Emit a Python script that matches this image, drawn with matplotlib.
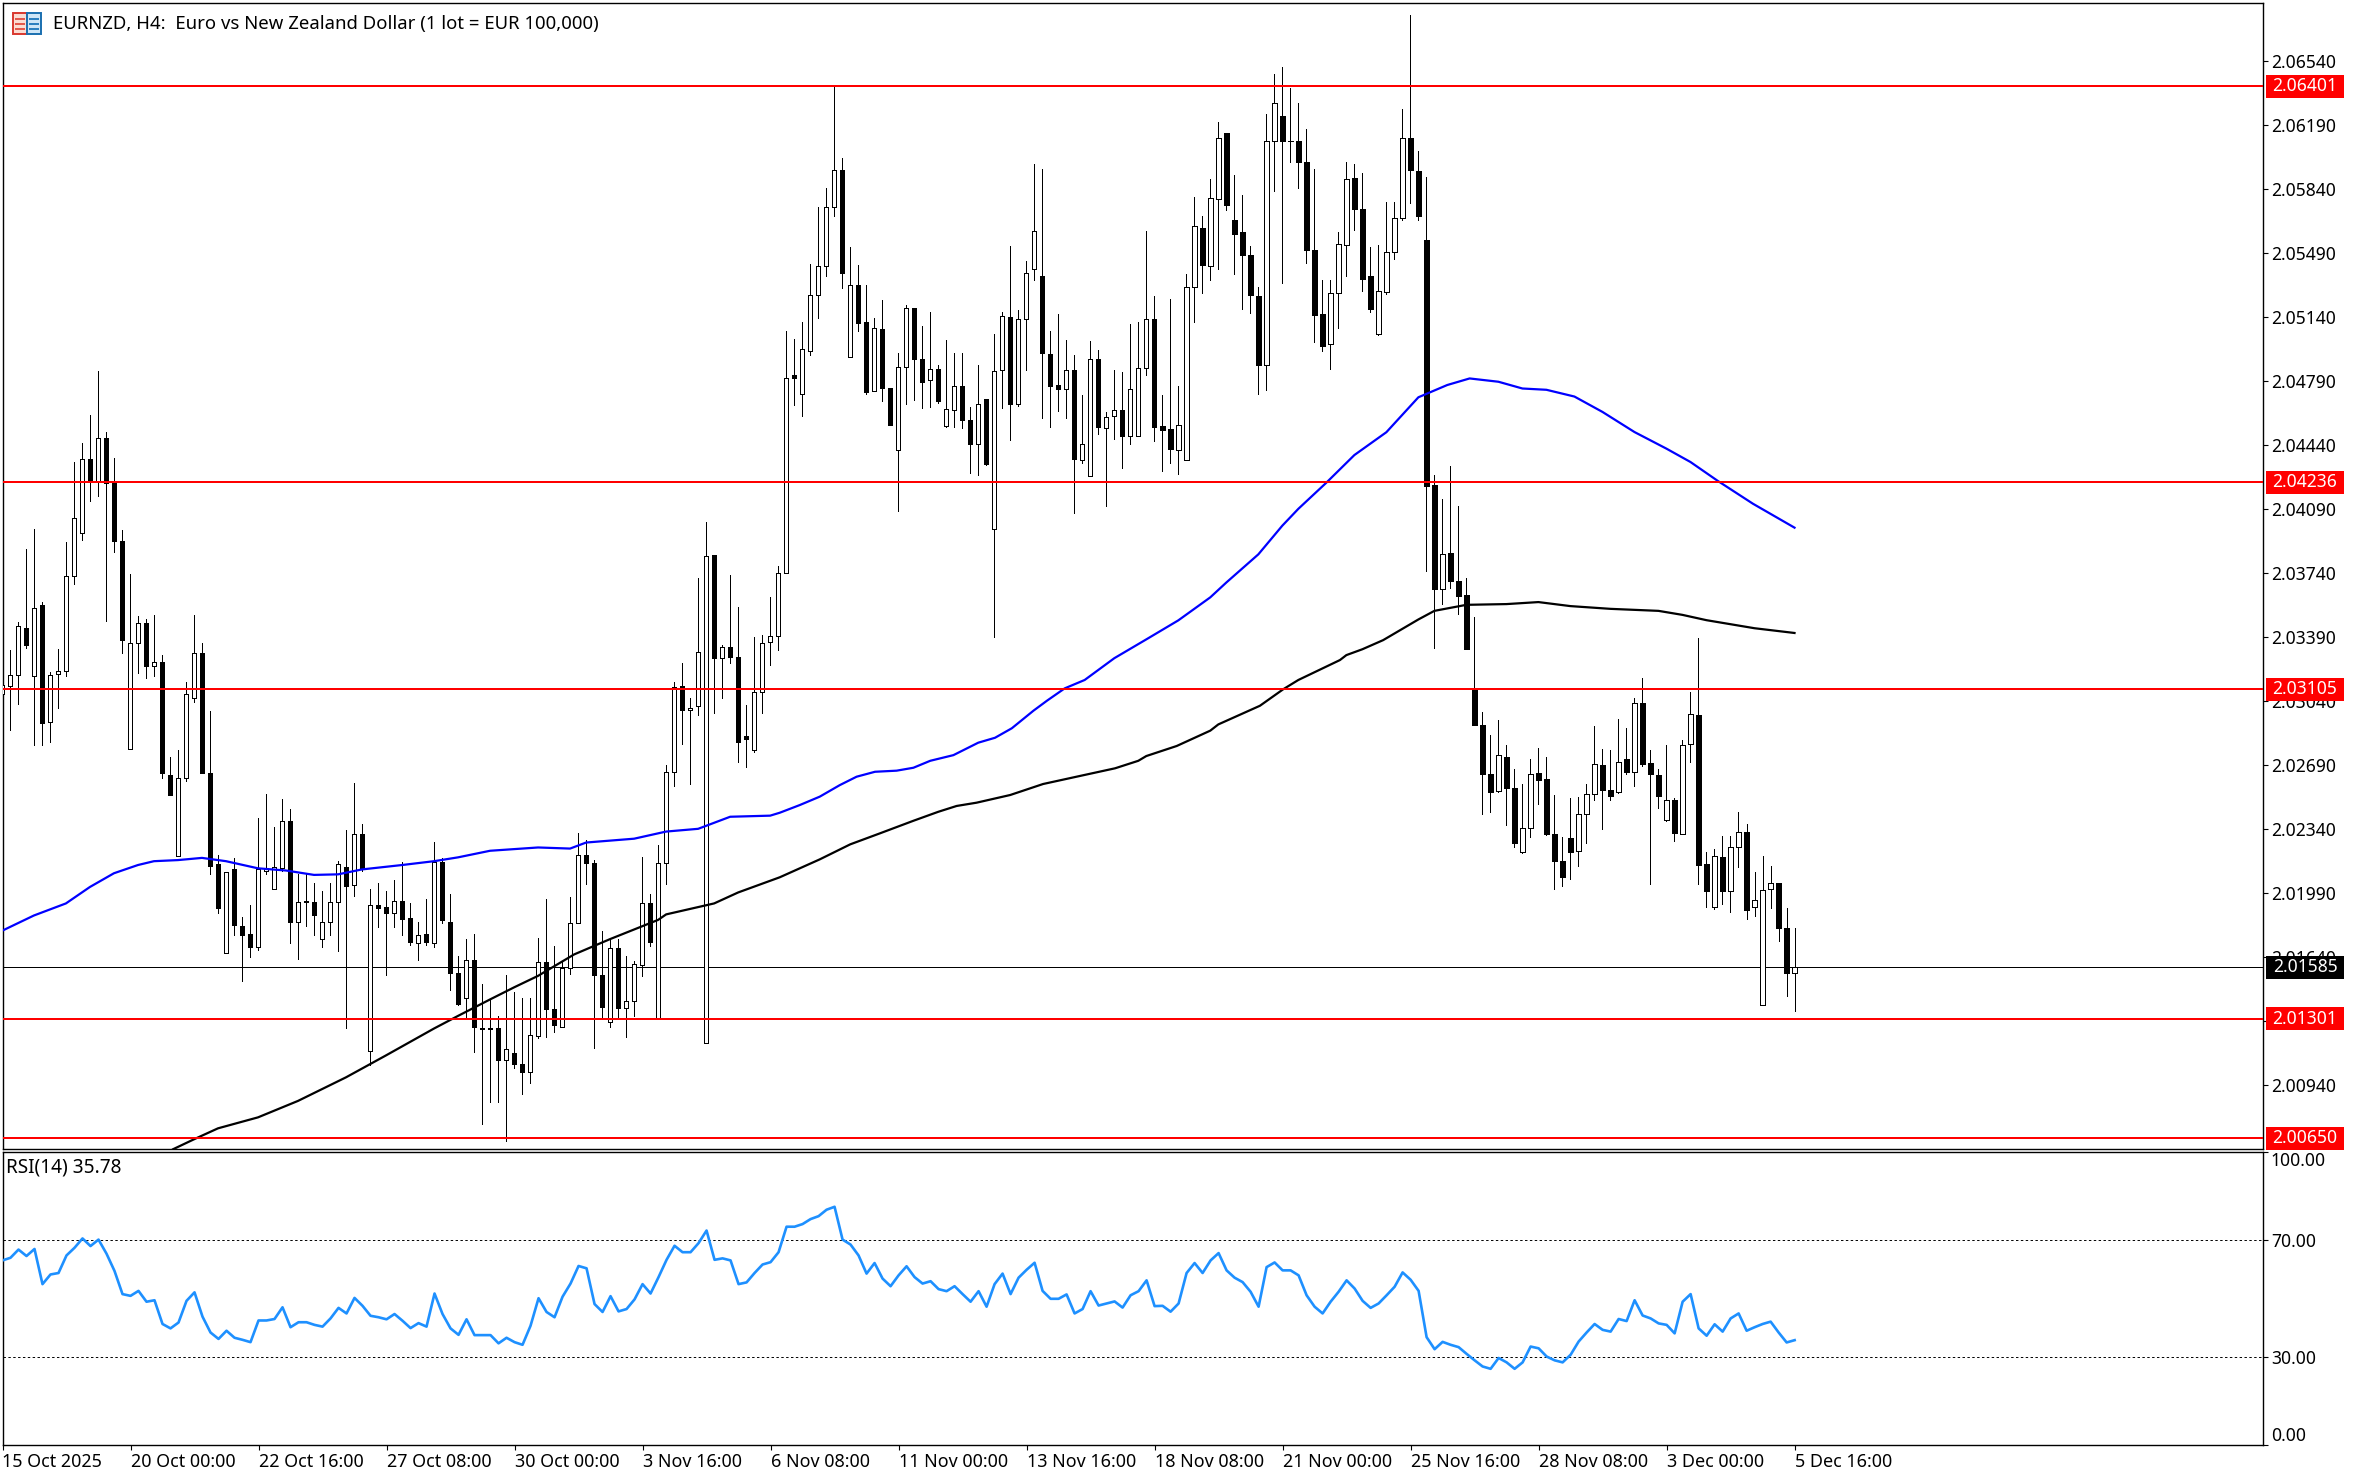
import numpy as np
import matplotlib
matplotlib.use("Agg")
import matplotlib.pyplot as plt
from matplotlib.patches import Rectangle
from matplotlib.transforms import blended_transform_factory

plt.rcParams['font.family'] = ['Noto Sans', 'DejaVu Sans']

W, H = 2359, 1478

# H4 bars, prices in points (1 point = 0.00001)
opens = [
    203079, 203124, 203184, 203439, 203175, 203565, 202923, 203190, 203202, 203724, 203961, 204366, 204240, 204480, 204234, 203913,
    202779, 203358, 203466, 203229, 203256, 202638, 202194, 202620, 203058, 203304, 202644, 202149, 201660, 202119, 201810, 201768,
    201693, 202113, 202014, 202128, 202386, 201834, 201939, 201939, 201738, 201834, 201942, 202134, 202032, 202314, 201126, 201927,
    201915, 201882, 201948, 201855, 201717, 201768, 201717, 202161, 201834, 201555, 201417, 201624, 201252, 201246, 201252, 201075,
    201117, 201057, 201009, 201210, 201615, 201357, 201255, 201579, 201828, 202200, 202155, 201543, 201285, 201690, 201363, 201402,
    201597, 201933, 201303, 202152, 202650, 203124, 202992, 203010, 201171, 203841, 203277, 203337, 203283, 202848, 202773, 203091,
    203364, 203397, 203739, 204825, 204717, 204954, 205263, 205421, 205739, 205946, 204920, 205313, 205115, 204733, 205074, 204754,
    204415, 204869, 205187, 204913, 204793, 204857, 204542, 204634, 204761, 204579, 204443, 204694, 203983, 204848, 205138, 204666,
    205131, 205401, 205366, 204936, 204770, 204749, 204848, 204360, 204268, 204908, 204535, 204600, 204634, 204491, 204487, 204862,
    205131, 204542, 204528, 204415, 204356, 205306, 205629, 205419, 205787, 206147, 205668, 205603, 205477, 205253, 204880, 206105,
    206239, 206105, 206103, 205985, 205509, 205154, 204991, 205269, 205536, 205902, 205730, 205364, 205046, 205276, 205493, 205684,
    206117, 205937, 205559, 204222, 203653, 203849, 203695, 203617, 203105, 202911, 202643, 202548, 202735, 202563, 202215, 202347,
    202647, 202614, 202314, 202167, 202292, 202218, 202423, 202530, 202691, 202552, 202541, 202724, 202651, 203028, 202702, 202636,
    202390, 202497, 202314, 202804, 202966, 202149, 201911, 202185, 202002, 202244, 202325, 201911, 201379, 202010, 202046, 201797, 201555,
]
highs = [
    203163, 203319, 203472, 203871, 203982, 203583, 203199, 203325, 203910, 204348, 204453, 204603, 204846, 204513, 204369, 203973,
    203733, 203505, 203487, 203511, 203292, 202734, 202773, 203142, 203511, 203355, 202986, 202197, 202107, 202179, 201858, 201927,
    202401, 202530, 202353, 202503, 202449, 202092, 202092, 202044, 201999, 202047, 202164, 202335, 202593, 202368, 202014, 202047,
    201999, 202059, 202158, 201933, 201831, 201957, 202269, 202179, 201987, 201648, 201738, 201768, 201492, 201408, 201318, 201543,
    201447, 201417, 201417, 201744, 201957, 201702, 201618, 201969, 202320, 202278, 202173, 201783, 201738, 201738, 201648, 201618,
    202188, 201984, 202251, 202689, 203142, 203247, 203058, 203712, 204018, 203841, 203349, 203730, 203553, 203019, 203391, 203403,
    203607, 203778, 205062, 205019, 205115, 205431, 205741, 205845, 206402, 206008, 205523, 205424, 205315, 205134, 205233, 204754,
    204943, 205205, 205191, 205090, 205168, 204878, 205012, 204943, 204943, 204648, 204878, 204694, 205046, 205168, 205527, 205180,
    205444, 205976, 205949, 205062, 205154, 205012, 204933, 204712, 205009, 204959, 204620, 204850, 204837, 205101, 205113, 205612,
    205253, 204712, 205237, 204765, 205375, 205794, 205695, 205896, 206206, 206147, 205914, 205806, 205527, 205304, 206248, 206471,
    206508, 206393, 206310, 206167, 205949, 205345, 205345, 205603, 205988, 205976, 205925, 205523, 205534, 205767, 205771, 206280,
    206793, 206048, 205905, 204275, 204144, 204326, 204107, 203711, 203500, 202980, 202856, 202936, 202797, 202669, 202588, 202724,
    202782, 202735, 202526, 202295, 202508, 202515, 202588, 202903, 202779, 202771, 202944, 202892, 203057, 203167, 202771, 202669,
    202797, 202508, 202826, 203090, 203383, 202215, 202229, 202303, 202303, 202434, 202369, 202105, 202193, 202138, 202046, 201907, 201797,
]
lows = [
    203028, 202884, 203022, 203328, 202797, 202797, 202815, 203004, 203178, 203682, 203919, 204132, 204162, 203478, 203856, 203301,
    202779, 203193, 203166, 203178, 202617, 202527, 202194, 202602, 203037, 202644, 202092, 201879, 201660, 201759, 201510, 201642,
    201678, 202095, 202014, 202113, 201717, 201627, 201807, 201759, 201693, 201759, 201672, 201252, 201972, 202113, 201048, 201804,
    201543, 201804, 201759, 201708, 201621, 201708, 201693, 201828, 201459, 201378, 201303, 201123, 200727, 200847, 200847, 200634,
    201033, 200889, 200949, 201198, 201204, 201228, 201255, 201549, 201828, 202038, 201144, 201303, 201258, 201303, 201204, 201315,
    201537, 201699, 201303, 202038, 202575, 202803, 202587, 202962, 201171, 202977, 203058, 203250, 202707, 202680, 202761, 202974,
    203238, 203319, 203739, 204659, 204597, 204931, 205134, 205364, 205695, 205299, 204920, 205065, 204719, 204733, 204680, 204547,
    204079, 204666, 204685, 204641, 204648, 204671, 204537, 204540, 204535, 204286, 204275, 204333, 203389, 204643, 204466, 204655,
    204850, 205345, 204590, 204540, 204625, 204586, 204068, 204344, 204268, 204501, 204107, 204475, 204314, 204448, 204487, 204821,
    204464, 204298, 204344, 204284, 204356, 205115, 205269, 205345, 205403, 205725, 205375, 205184, 205161, 204719, 204740, 205827,
    205327, 205988, 205845, 205433, 205005, 204956, 204857, 205081, 205364, 205615, 205283, 205168, 205039, 205265, 205456, 205668,
    205764, 205668, 203750, 203331, 203573, 203660, 203515, 203327, 202911, 202423, 202431, 202544, 202361, 202240, 202211, 202295,
    202478, 202306, 202010, 202031, 202068, 202138, 202266, 202497, 202339, 202497, 202537, 202643, 202574, 202687, 202039, 202453,
    202383, 202277, 202310, 202709, 202039, 201911, 201900, 201929, 201885, 202130, 201848, 201863, 201379, 201907, 201728, 201427, 201343,
]
closes = [
    203127, 203184, 203448, 203349, 203547, 202917, 203184, 203202, 203724, 204042, 204366, 204240, 204477, 204234, 203913, 203376,
    203358, 203469, 203229, 203256, 202644, 202527, 202620, 203076, 203304, 202644, 202140, 201906, 202107, 201813, 201762, 201693,
    202119, 202125, 202131, 202386, 201834, 201942, 201945, 201867, 201834, 201942, 202146, 202026, 202314, 202128, 201927, 201909,
    201882, 201948, 201849, 201720, 201762, 201720, 202161, 201840, 201555, 201384, 201621, 201255, 201246, 201252, 201075, 201135,
    201057, 201009, 201216, 201615, 201357, 201270, 201579, 201828, 202200, 202155, 201543, 201369, 201687, 201363, 201402, 201603,
    201933, 201723, 202155, 202653, 203118, 202992, 203004, 203310, 203835, 203277, 203334, 203283, 202818, 202833, 203091, 203358,
    203397, 203742, 204809, 204804, 204963, 205258, 205421, 205744, 205942, 205382, 205313, 205108, 204731, 205078, 204754, 204547,
    204869, 205191, 204913, 204786, 204857, 204682, 204639, 204761, 204579, 204448, 204666, 204337, 204846, 205143, 204666, 205131,
    205378, 205608, 204943, 204765, 204749, 204848, 204365, 204445, 204913, 204540, 204595, 204632, 204491, 204749, 204860, 205131,
    204540, 204524, 204418, 204547, 205306, 205635, 205426, 205790, 206121, 205755, 205596, 205477, 205263, 204880, 206105, 206308,
    206105, 206100, 205990, 205509, 205152, 204982, 205274, 205541, 205893, 205728, 205348, 205184, 205283, 205493, 205679, 206121,
    205942, 205695, 204217, 203653, 203844, 203695, 203614, 203327, 202911, 202643, 202544, 202742, 202566, 202266, 202347, 202643,
    202607, 202314, 202167, 202079, 202215, 202423, 202533, 202695, 202552, 202522, 202709, 202654, 203028, 202698, 202643, 202522,
    202497, 202317, 202801, 202969, 202145, 201999, 202193, 201999, 202244, 202325, 201896, 201951, 202006, 202046, 201797, 201555, 201585,
]

# moving averages, sampled along the line (bar number, price in points)
blue_ma_bars = [0, 4, 8, 11, 14, 17, 19, 22, 25, 28, 32, 35.5, 39, 42, 45, 50, 54, 57, 61, 67, 71, 73, 79, 83, 87, 91, 96,
                97.2, 99.7, 102.2, 104.7, 106.8, 109.1, 111.8, 113.9, 116, 118.9, 122, 124.1, 126.2, 128.9, 130.6, 132.8, 135.3,
                139, 143, 147, 151, 153, 157, 160, 162, 165.5, 169, 173, 177, 180.6, 183.4, 187, 190, 193, 196.5, 200, 204, 208,
                211, 214.4, 218.8, 224]
blue_ma = [201783, 201867, 201933, 202023, 202098, 202143, 202164, 202170, 202182, 202164, 202125, 202113, 202089, 202092, 202119,
           202143, 202164, 202185, 202221, 202239, 202233, 202266, 202287, 202326, 202341, 202407, 202413,
           202429, 202471, 202517, 202580, 202626, 202653, 202659, 202675, 202713, 202744, 202812, 202839, 202891, 202987, 203042, 203109, 203155,
           203274, 203377, 203481, 203607, 203688, 203842, 203999, 204091, 204234, 204385, 204510, 204701, 204768, 204804, 204786, 204749, 204742,
           204705, 204621, 204511, 204420, 204347, 204244, 204119, 203988]
black_ma_bars = [21.4, 24, 27, 32, 37, 43, 48, 54, 57, 61, 64, 67, 71.5, 76, 82, 83, 89, 92, 97.2, 99.7, 102.2, 106, 109.7, 113.9,
                 117, 119.3, 121.8, 126, 130.1, 134.7, 139.1, 142, 143, 146.8, 151, 152, 157.2, 160.1, 162, 167.2, 168, 170, 172.6,
                 177, 179, 183, 188, 192, 196, 201, 207, 210, 213, 219, 224]
black_ma = [200589, 200643, 200703, 200763, 200853, 200982, 201102, 201249, 201318, 201408, 201474, 201537, 201654, 201738, 201843,
            201873, 201933, 201993, 202076, 202125, 202174, 202256, 202316, 202385, 202434, 202466, 202484, 202526, 202586, 202630,
            202672, 202713, 202739, 202794, 202878, 202912, 203014, 203104, 203155, 203264, 203291, 203323, 203373,
            203486, 203533, 203566, 203570, 203581, 203559, 203544, 203533, 203511, 203482, 203438, 203412]

rsi = [
    63.0, 63.9, 66.7, 64.5, 66.9, 54.9, 58.2, 58.7, 64.7, 67.3, 70.5, 67.9, 70.1, 65.3, 59.4, 51.5,
    50.9, 52.6, 48.9, 49.4, 41.3, 39.8, 41.8, 49.2, 52.1, 43.8, 38.4, 36.2, 39.0, 36.6, 35.9, 35.1,
    42.5, 42.5, 43.0, 47.0, 40.2, 41.9, 41.9, 41.0, 40.4, 43.2, 46.8, 44.9, 50.2, 47.5, 44.1, 43.6,
    42.9, 44.7, 42.4, 39.9, 41.6, 40.4, 51.7, 44.7, 39.8, 37.6, 42.9, 37.5, 37.5, 37.5, 34.7, 36.6,
    35.1, 34.2, 40.7, 50.1, 45.4, 43.6, 50.6, 55.1, 61.1, 60.3, 48.1, 45.4, 50.8, 45.6, 46.4, 49.7,
    54.9, 51.7, 57.3, 63.2, 68.0, 65.8, 65.8, 68.9, 73.2, 63.2, 63.7, 63.0, 54.9, 55.5, 58.7, 61.6,
    62.4, 65.8, 74.5, 74.5, 75.4, 77.1, 78.1, 80.3, 81.3, 70.1, 68.4, 64.7, 58.5, 62.1, 56.8, 54.2,
    57.9, 61.0, 57.3, 55.1, 55.9, 53.2, 52.5, 54.2, 51.5, 48.9, 52.5, 47.2, 54.9, 58.5, 51.5, 57.1,
    59.8, 62.2, 52.6, 49.9, 49.9, 51.4, 44.9, 46.4, 52.5, 47.6, 48.3, 49.0, 46.9, 51.1, 52.5, 56.2,
    47.4, 47.5, 45.5, 48.3, 58.7, 62.1, 58.7, 63.0, 65.5, 59.6, 57.1, 55.6, 52.3, 47.2, 60.7, 62.3,
    59.6, 59.6, 57.9, 51.1, 47.2, 44.9, 48.9, 52.3, 56.2, 53.4, 49.2, 46.8, 48.3, 51.1, 54.0, 58.9,
    56.4, 52.6, 36.8, 32.7, 35.2, 34.2, 33.4, 31.1, 28.9, 26.8, 26.0, 29.7, 28.2, 26.0, 28.2, 33.6,
    33.0, 30.2, 28.9, 28.2, 30.8, 35.3, 38.4, 41.3, 39.3, 38.7, 43.0, 42.3, 49.4, 44.2, 43.2, 41.5,
    41.0, 38.1, 48.9, 51.5, 39.8, 37.3, 41.2, 38.7, 43.2, 44.9, 39.0, 40.2, 41.3, 42.1, 38.4, 35.0, 35.78,
]

red_levels = [2.06401, 2.04236, 2.03105, 2.01301, 2.00650]
last_price = 2.01585
price_ticks = [2.06540, 2.06190, 2.05840, 2.05490, 2.05140, 2.04790, 2.04440, 2.04090, 2.03740, 2.03390,
               2.03040, 2.02690, 2.02340, 2.01990, 2.01640, 2.01290, 2.00940]
rsi_ticks = [100, 70, 30, 0]
date_labels = ['15 Oct 2025', '20 Oct 00:00', '22 Oct 16:00', '27 Oct 08:00', '30 Oct 00:00', '3 Nov 16:00', '6 Nov 08:00',
               '11 Nov 00:00', '13 Nov 16:00', '18 Nov 08:00', '21 Nov 00:00', '25 Nov 16:00', '28 Nov 08:00', '3 Dec 00:00', '5 Dec 16:00']

assert len(opens) == len(highs) == len(lows) == len(closes) == len(rsi) == 225
assert len(blue_ma_bars) == len(blue_ma) and len(black_ma_bars) == len(black_ma)

o = np.array(opens) / 1e5
h = np.array(highs) / 1e5
l = np.array(lows) / 1e5
c = np.array(closes) / 1e5
bars = np.arange(len(o))
up = c >= o


def px_axes(left, top, right, bottom):
    return [left / W, 1 - bottom / H, (right - left) / W, (bottom - top) / H]


fig = plt.figure(figsize=(W / 100, H / 100), dpi=100, facecolor='white')
ax = fig.add_axes(px_axes(2.5, 2.5, 2263, 1149))
ax2 = fig.add_axes(px_axes(2.5, 1152, 2263, 1445))

# candles
ax.vlines(bars, l, h, color='black', lw=0.6, zorder=2, antialiased=False)
ax.bar(bars[up], (c - o)[up], bottom=o[up], width=0.55, facecolor='white', edgecolor='black', lw=0.6, zorder=3, antialiased=False)
ax.bar(bars[~up], (c - o)[~up], bottom=o[~up], width=0.55, facecolor='black', edgecolor='black', lw=0.6, zorder=3, antialiased=False)

ax.plot(blue_ma_bars, np.array(blue_ma) / 1e5, color='#0000FF', lw=1.6, zorder=4)
ax.plot(black_ma_bars, np.array(black_ma) / 1e5, color='black', lw=1.6, zorder=4)

ax.axhline(last_price, color='black', lw=0.6, zorder=1, antialiased=False)
for lev in red_levels:
    ax.axhline(lev, color='#FF0000', lw=1.35, zorder=5, antialiased=False)

ax.set_xlim(0.075, 282.54)
ax.set_ylim(2.00590, 2.06860)
ax.set_xticks([])
ax.yaxis.tick_right()
ax.set_yticks(price_ticks)
ax.set_yticklabels(['%.5f' % p for p in price_ticks])
ax.tick_params(axis='y', length=3.6, width=0.8, pad=2, labelsize=12.6)

# price tags on the right axis
tag_trans = blended_transform_factory(ax.transAxes, ax.transData)
tag_left = (2266 - 2.5) / 2260.5
tag_w = 78 / 2260.5
tag_h = 23 * 5.469e-5
for lev, col in [(v, '#FF0000') for v in red_levels] + [(last_price, 'black')]:
    ax.add_patch(Rectangle((tag_left, lev - tag_h / 2), tag_w, tag_h, transform=tag_trans, facecolor=col,
                           edgecolor='none', clip_on=False, zorder=10))
    ax.text(tag_left + tag_w / 2, lev, '%.5f' % lev, transform=tag_trans, color='white', ha='center', va='center',
            fontsize=12.6, zorder=11, clip_on=False)

# rsi pane
ax2.plot(bars, rsi, color='#1E90FF', lw=1.9, zorder=3)
for lev in [70, 30]:
    ax2.axhline(lev, color='black', lw=0.7, ls=(0, (2.5, 2.5)), zorder=2)
ax2.set_xlim(0.075, 282.54)
ax2.set_ylim(0, 100)
ax2.yaxis.tick_right()
ax2.set_yticks(rsi_ticks)
ax2.set_yticklabels(['%.2f' % v for v in rsi_ticks])
ax2.tick_params(axis='y', length=3.6, width=0.8, pad=2, labelsize=12.6)
ax2.get_yticklabels()[0].set_va('top')
ax2.get_yticklabels()[3].set_va('bottom')
ax2.set_xticks(np.arange(len(date_labels)) * 16)
ax2.set_xticklabels(date_labels, ha='left')
ax2.tick_params(axis='x', length=3.6, width=0.8, pad=2, labelsize=12.9)

for a in (ax, ax2):
    for s in a.spines.values():
        s.set_linewidth(1.0)
        s.set_color('black')

fig.text(53 / W, 1 - 24 / H, 'EURNZD, H4:  Euro vs New Zealand Dollar (1 lot = EUR 100,000)', ha='left', va='center', fontsize=13.35)
fig.text(6 / W, 1 - 1167 / H, 'RSI(14) 35.78', ha='left', va='center', fontsize=13.7)

# symbol icon top left
def icon_box(x0, y0, w, h, **kw):
    fig.add_artist(Rectangle((x0 / W, 1 - (y0 + h) / H), w / W, h / H, transform=fig.transFigure, **kw))


icon_box(13, 13, 14, 21, facecolor='#fbdcd2', edgecolor='#d9382e', lw=1.4)
icon_box(27, 13, 14, 21, facecolor='#cfe6f7', edgecolor='#1a6fb0', lw=1.4)
for yy in (18, 23, 28):
    icon_box(15, yy, 10, 1.6, facecolor='#e2584c', edgecolor='none')
    icon_box(29, yy, 10, 1.6, facecolor='#2d80c0', edgecolor='none')

fig.savefig('out.png', dpi=100, facecolor='white')
